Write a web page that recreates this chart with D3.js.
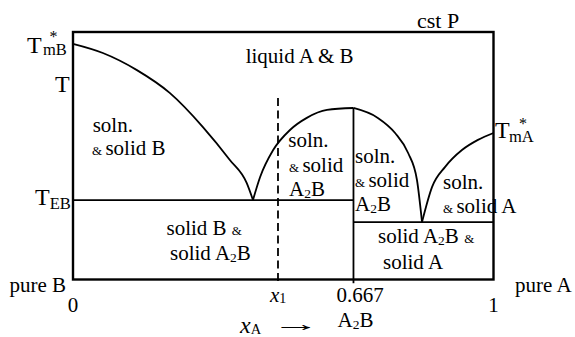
<!DOCTYPE html>
<html>
<head>
<meta charset="utf-8">
<script src="https://cdn.jsdelivr.net/npm/d3@7"></script>
<style>
  html, body { margin: 0; padding: 0; background: #fff; }
  svg { display: block; }
</style>
</head>
<body>
<svg id="chart" width="575" height="337" font-family="'Liberation Serif', Tinos, 'DejaVu Serif', serif"></svg>
<script>
// Phase diagram of A + B forming the congruent compound A2B, at constant pressure.
// Composition x_A on the horizontal axis, temperature (arbitrary units 0–100) vertically.

// Liquidus of solid B: from the melting point of pure B down to the first eutectic
const liquidusB = [[0, 95.2], [0.071, 91.5], [0.152, 84.6], [0.230, 75.4], [0.309, 61.6], [0.373, 48.3], [0.413, 39.0], [0.428, 32.1]];
// Liquidus of A2B, left branch (first eutectic up to the congruent melting point)
const liquidusA2BLeft = [[0.428, 32.1], [0.445, 41.4], [0.476, 52.3], [0.516, 60.4], [0.556, 65.3], [0.604, 68.5], [0.667, 69.3]];
// Liquidus of A2B, right branch (congruent melting point down to the second eutectic)
const liquidusA2BRight = [[0.667, 69.3], [0.725, 65.3], [0.766, 59.2], [0.797, 51.1], [0.818, 40.2], [0.830, 23.2]];
// Liquidus of solid A: second eutectic up to the melting point of pure A
const liquidusA = [[0.830, 23.2], [0.854, 37.4], [0.885, 45.5], [0.925, 52.3], [0.963, 56.4], [1, 59.2]];

// Eutectic temperatures and the compound composition
const eutecticTemps = [32.1, 23.2];          // T_EB, second eutectic
const compoundX = 0.667;                     // A2B
const compoundTop = 69.3;                    // congruent melting point of A2B
const isoplethX = 0.4875;                    // x1
const isoplethTop = 73.3;

// Axis labels along the composition axis
const xTickValues = [0, 1];
const xTickLabels = ["0", "1"];

const svg = d3.select("#chart");
const x = d3.scaleLinear().domain([0, 1]).range([73, 493.5]);
const y = d3.scaleLinear().domain([0, 100]).range([279.5, 32]);

const line = d3.line().x(d => x(d[0])).y(d => y(d[1])).curve(d3.curveMonotoneX);

// Curves
const curves = svg.append("g").attr("fill", "none").attr("stroke", "#000").attr("stroke-width", 1.8);
[liquidusB, liquidusA2BLeft, liquidusA2BRight, liquidusA].forEach(pts => {
  curves.append("path").attr("d", line(pts));
});

// Eutectic lines
curves.append("line")
  .attr("x1", x(0)).attr("x2", x(compoundX))
  .attr("y1", y(eutecticTemps[0])).attr("y2", y(eutecticTemps[0]));
curves.append("line")
  .attr("x1", x(compoundX)).attr("x2", x(1))
  .attr("y1", y(eutecticTemps[1])).attr("y2", y(eutecticTemps[1]));

// Compound A2B vertical
curves.append("line")
  .attr("x1", x(compoundX)).attr("x2", x(compoundX))
  .attr("y1", y(compoundTop)).attr("y2", y(-1.5));

// Isopleth at x1
curves.append("line")
  .attr("x1", x(isoplethX)).attr("x2", x(isoplethX))
  .attr("y1", y(isoplethTop)).attr("y2", y(-2))
  .attr("stroke-dasharray", "8,4.5");

// Frame
svg.append("rect")
  .attr("x", x(0)).attr("y", y(100))
  .attr("width", x(1) - x(0)).attr("height", y(0) - y(100))
  .attr("fill", "none").attr("stroke", "#000").attr("stroke-width", 2.4);

// Text helper: parts = [[text, size, baselineShift, italic, dx]]
function label(px, py, parts, anchor) {
  const t = svg.append("text").attr("x", px).attr("y", py)
    .attr("text-anchor", anchor || "start").attr("fill", "#000");
  let shift = 0;
  parts.forEach(p => {
    const s = t.append("tspan").text(p[0]).attr("font-size", p[1]);
    const dy = (p[2] || 0) - shift;
    if (dy) s.attr("dy", dy);
    shift = p[2] || 0;
    if (p[3]) s.attr("font-style", "italic");
    if (p[4]) s.attr("dx", p[4]);
  });
  return t;
}

const F = 21;

// Temperature labels (melting points carry a superscript star above the subscript)
label(27, 52.5, [["T", 24], ["*", 16, -10.5, false, 7.8], ["mB", 16.5, 2.5, false, -14.5]]);
label(55, 92, [["T", 24]]);
label(35, 205, [["T", 24], ["EB", 16.5, 4]]);
label(495, 138, [["T", 24], ["*", 16, -9, false, 9.3], ["mA", 16.5, 3.5, false, -18]]);

// Title corner
label(417, 28, [["cst P", 22]]);

// Region labels
label(245.7, 63.3, [["liquid A & B", F]]);

label(92.7, 131.7, [["soln.", F]]);
label(92, 155, [["& ", 13], ["solid B", F]]);

label(288.3, 146.7, [["soln.", F]]);
label(289, 171.7, [["& ", 13], ["solid", F]]);
label(289, 196, [["A", F], ["2", 13.5, 2], ["B", F]]);

label(355, 163, [["soln.", F]]);
label(355, 187, [["& ", 13], ["solid", F]]);
label(355, 211, [["A", F], ["2", 13.5, 2], ["B", F]]);

label(443, 189, [["soln.", F]]);
label(443, 213, [["& ", 13], ["solid A", F]]);

label(166.5, 235, [["solid B ", F], ["&", 13]]);
label(170, 260, [["solid A", F], ["2", 13.5, 2], ["B", F]]);

label(378, 243, [["solid A", F], ["2", 13.5, 2], ["B ", F], ["&", 13]]);
label(383, 269, [["solid A", F]]);

// Composition axis labels
xTickValues.forEach((v, i) => label(x(v), 311.7, [[xTickLabels[i], F]], "middle"));
label(x(0) - 7, 292, [["pure B", F]], "end");
label(515, 292, [["pure A", F]]);
label(x(isoplethX) - 8, 301.7, [["x", F, 0, true], ["1", 14, 1]]);
label(x(compoundX) - 17, 301.7, [[d3.format(".3f")(compoundX), F]]);
label(x(compoundX) - 16, 326.7, [["A", F], ["2", 13.5, 2], ["B", F]]);
label(240, 333, [["x", 24, 0, true], ["A", 14.5, 1]]);

// Direction arrow after x_A, stretched horizontally
svg.append("text")
  .attr("transform", "translate(272,331) scale(2.2,1)")
  .attr("font-size", 22).attr("fill", "#000")
  .text("→");
</script>
</body>
</html>
